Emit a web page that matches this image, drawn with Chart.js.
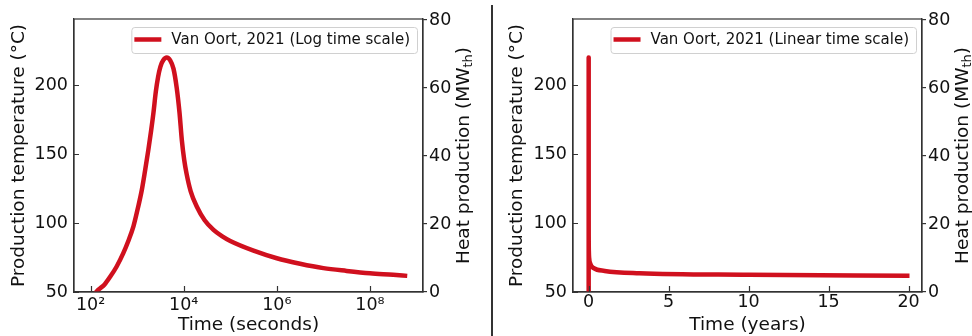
<!DOCTYPE html>
<html>
<head>
<meta charset="utf-8">
<script src="https://cdn.jsdelivr.net/npm/chart.js@4"></script>
<style>
  body { margin: 0; background: #fff; }
  #wrap { position: relative; width: 972px; height: 336px; overflow: hidden; }
  #c1 { position: absolute; left: 0; top: 0; }
  #c2 { position: absolute; left: 498px; top: 0; }
  #sep { position: absolute; left: 491px; top: 5px; width: 1.5px; height: 331px; background: #333; }
</style>
</head>
<body>
<div id="wrap">
  <canvas id="c1" width="488" height="336"></canvas>
  <div id="sep"></div>
  <canvas id="c2" width="474" height="336"></canvas>
</div>
<script>
// values (time in seconds, temperature in °C)
const timeSeconds = [120, 145, 200, 263, 363, 501, 646, 832, 1023, 1259, 1479, 1738, 1995, 2239, 2512, 2818, 3162, 3631, 4315, 5129, 6026, 7079, 8128, 9120, 10230, 11480, 14130, 19050, 28180, 43650, 66070, 1e5, 3.16e5, 1e6, 3.16e6, 1e7, 3.16e7, 1e8, 3.16e8, 6.33e8];
const temperatureC = [48.5, 51.5, 55.5, 61, 68.5, 78, 87, 97.6, 110, 124, 138, 153, 167, 180, 195, 206, 213.5, 218, 220, 218, 212, 198, 180, 160, 146, 136, 123, 112, 102, 95, 90.5, 87, 80, 74.5, 70.5, 67.3, 65.3, 63.6, 62.5, 61.7];
const SECONDS_PER_YEAR = 31557600;
const timeYears = timeSeconds.map(s => s / SECONDS_PER_YEAR);

const logTicks = [1e2, 1e4, 1e6, 1e8];
const yearTicks = [0, 5, 10, 15, 20];
const tempTicks = [50, 100, 150, 200];
const heatTicks = [0, 20, 40, 60, 80];

const labelLog = 'Van Oort, 2021 (Log time scale)';
const labelLin = 'Van Oort, 2021 (Linear time scale)';
const lineColor = '#d0101e';
const axisColor = '#333';
const FONT = 'DejaVu Sans';
const TICK_SIZE = 17.5;
const TITLE_SIZE = 18.5;

const sup = { '0': '⁰', '1': '¹', '2': '²', '3': '³', '4': '⁴', '5': '⁵', '6': '⁶', '7': '⁷', '8': '⁸', '9': '⁹' };

const decorations = {
  id: 'decorations',
  afterDraw(chart) {
    const { ctx, chartArea: a, scales } = chart;
    ctx.save();
    // axes frame
    ctx.strokeStyle = axisColor;
    ctx.lineWidth = 1.2;
    ctx.strokeRect(a.left, a.top, a.right - a.left, a.bottom - a.top);
    // inward ticks on bottom and left
    ctx.beginPath();
    scales.x.ticks.forEach(t => {
      const px = Math.round(scales.x.getPixelForValue(t.value)) + 0.5;
      ctx.moveTo(px, a.bottom);
      ctx.lineTo(px, a.bottom - 6);
    });
    scales.y.ticks.forEach(t => {
      const py = Math.round(scales.y.getPixelForValue(t.value)) + 0.5;
      ctx.moveTo(a.left, py);
      ctx.lineTo(a.left + 5, py);
    });
    ctx.stroke();

    // right axis title, read bottom to top, with subscript
    const cx = a.right + 41, cy = (a.top + a.bottom) / 2;
    const main = TITLE_SIZE + 'px "' + FONT + '"', small = '13px "' + FONT + '"';
    ctx.font = main;
    const w1 = ctx.measureText('Heat production (MW').width;
    const w3 = ctx.measureText(')').width;
    ctx.font = small;
    const w2 = ctx.measureText('th').width;
    const total = w1 + w2 + w3;
    ctx.translate(cx, cy);
    ctx.rotate(-Math.PI / 2);
    ctx.fillStyle = '#111';
    ctx.textBaseline = 'middle';
    ctx.textAlign = 'left';
    ctx.font = main;
    ctx.fillText('Heat production (MW', -total / 2, 0);
    ctx.font = small;
    ctx.fillText('th', -total / 2 + w1, 5);
    ctx.font = main;
    ctx.fillText(')', -total / 2 + w1 + w2, 0);
    ctx.setTransform(1, 0, 0, 1, 0, 0);

    // legend
    const ds = chart.data.datasets[0];
    ctx.font = '15px "' + FONT + '"';
    const tw = ctx.measureText(ds.label).width;
    const bw = 3 + 27 + 10 + tw + 7, bh = 26;
    const bx = a.right - 6 - bw, by = a.top + 8;
    ctx.fillStyle = 'rgba(255,255,255,0.85)';
    ctx.strokeStyle = '#d0d0d0';
    ctx.lineWidth = 1;
    ctx.beginPath();
    ctx.roundRect(bx + 0.5, by + 0.5, bw, bh, 3);
    ctx.fill();
    ctx.stroke();
    ctx.strokeStyle = ds.borderColor;
    ctx.lineWidth = 4.5;
    ctx.beginPath();
    ctx.moveTo(bx + 3, by + 12.5);
    ctx.lineTo(bx + 30, by + 12.5);
    ctx.stroke();
    ctx.fillStyle = '#111';
    ctx.textBaseline = 'middle';
    ctx.fillText(ds.label, bx + 40, by + 13);
    ctx.restore();
  }
};

function makeChart(canvasId, xs, label, xScale, leftWidth, rightWidth) {
  const points = xs.map((x, i) => ({ x: x, y: temperatureC[i] }));
  return new Chart(document.getElementById(canvasId), {
    type: 'line',
    data: {
      datasets: [{
        label: label,
        data: points,
        borderColor: lineColor,
        borderWidth: 4.5,
        borderJoinStyle: 'round',
        pointRadius: 0,
        cubicInterpolationMode: 'monotone',
        fill: false,
        yAxisID: 'y'
      }]
    },
    options: {
      responsive: false,
      animation: false,
      devicePixelRatio: 1,
      layout: { padding: { top: 19, left: 0, right: 0, bottom: 0 } },
      plugins: { legend: { display: false }, tooltip: { enabled: false } },
      scales: {
        x: Object.assign({
          position: 'bottom',
          grid: { drawOnChartArea: false, drawTicks: false },
          border: { display: true, color: axisColor, width: 1.2 },
          afterFit: s => { s.height = 44; }
        }, xScale),
        y: {
          position: 'left',
          min: 50,
          max: 248,
          afterBuildTicks: s => { s.ticks = tempTicks.map(v => ({ value: v })); },
          grid: { drawOnChartArea: false, drawTicks: false },
          border: { display: true, color: axisColor, width: 1.2 },
          ticks: { color: '#111', font: { family: FONT, size: TICK_SIZE }, padding: 6 },
          title: { display: true, text: 'Production temperature (°C)', color: '#111', font: { family: FONT, size: TITLE_SIZE }, padding: { top: 8, bottom: 0 } },
          afterFit: s => { s.width = leftWidth; }
        },
        y1: {
          position: 'right',
          min: 0,
          max: 80.3,
          afterBuildTicks: s => { s.ticks = heatTicks.map(v => ({ value: v })); },
          grid: { drawOnChartArea: false, drawTicks: true, tickLength: 4, color: axisColor, lineWidth: 1.2 },
          border: { display: true, color: axisColor, width: 1.2 },
          ticks: { color: '#111', font: { family: FONT, size: TICK_SIZE }, padding: 2 },
          afterFit: s => { s.width = rightWidth; }
        }
      }
    },
    plugins: [decorations]
  });
}

makeChart('c1', timeSeconds, labelLog, {
  type: 'logarithmic',
  min: 44,
  max: 1.38e9,
  afterBuildTicks: s => { s.ticks = logTicks.map(v => ({ value: v })); },
  ticks: { color: '#111', font: { family: FONT, size: TICK_SIZE }, padding: 3, maxRotation: 0, autoSkip: false,
    callback: v => '10' + String(Math.round(Math.log10(v))).split('').map(d => sup[d]).join('') },
  title: { display: true, text: 'Time (seconds)', color: '#111', font: { family: FONT, size: TITLE_SIZE }, padding: { top: 0, bottom: 0 } }
}, 74, 65);

makeChart('c2', timeYears, labelLin, {
  type: 'linear',
  min: -0.98,
  max: 20.84,
  afterBuildTicks: s => { s.ticks = yearTicks.map(v => ({ value: v })); },
  ticks: { color: '#111', font: { family: FONT, size: TICK_SIZE }, padding: 0, maxRotation: 0, autoSkip: false,
    callback: v => String(v) },
  title: { display: true, text: 'Time (years)', color: '#111', font: { family: FONT, size: TITLE_SIZE }, padding: { top: 0, bottom: 0 } }
}, 75, 50);
</script>
</body>
</html>
